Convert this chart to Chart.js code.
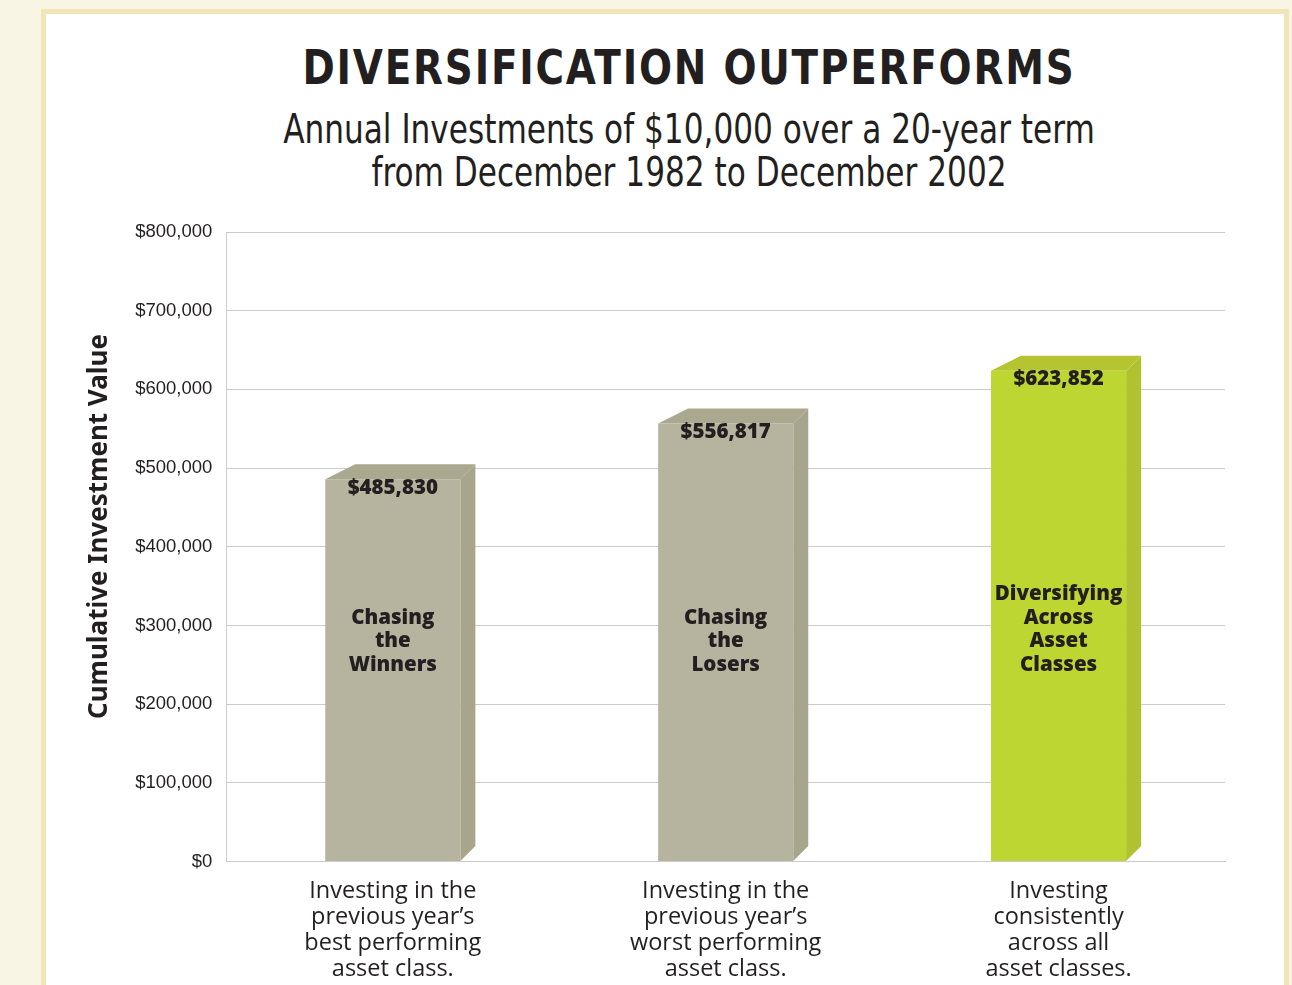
<!DOCTYPE html>
<html>
<head>
<meta charset="utf-8">
<script src="https://cdn.jsdelivr.net/npm/chart.js@4/dist/chart.umd.min.js"></script>
<style>
  html, body { margin: 0; padding: 0; background: #f8f5e4; overflow: hidden; }
  #panel { position: absolute; left: 41px; top: 9px; width: 1238px; height: 1000px; background: #fff; border: 5px solid #f1e5b5; }
  #wrap { position: absolute; left: 46px; top: 14px; width: 1286px; height: 987px; }
  .head { position: absolute; left: 0; width: 1378px; text-align: center; white-space: nowrap; color: #231f20;
          font-family: "DejaVu Sans Condensed", "DejaVu Sans", sans-serif; transform-origin: 689px 0; }
  #title { top: 43px; font-size: 48px; line-height: 48px; font-weight: bold; letter-spacing: 2px; transform: scaleX(0.9); }
  #subtitle { top: 108px; font-size: 41px; line-height: 43px; transform: scaleX(0.845); }
</style>
</head>
<body>
<div id="panel"></div>
<div id="title" class="head">DIVERSIFICATION OUTPERFORMS</div>
<div id="subtitle" class="head">Annual Investments of $10,000 over a 20-year term<br>from December 1982 to December 2002</div>
<div id="wrap"><canvas id="myChart"></canvas></div>
<script>
const categories = [
  ['Investing in the', 'previous year\u2019s', 'best performing', 'asset class.'],
  ['Investing in the', 'previous year\u2019s', 'worst performing', 'asset class.'],
  ['Investing', 'consistently', 'across all', 'asset classes.']
]
const barNames = [
  ['Chasing', 'the', 'Winners'],
  ['Chasing', 'the', 'Losers'],
  ['Diversifying', 'Across', 'Asset', 'Classes']
]
const values = [485830, 556817, 623852]

const frontColors = ['#b6b49f', '#b6b49f', '#bed631']
const sideColors = ['#a7a58b', '#a7a58b', '#b2c130']
const topColors = ['#aaa88f', '#aaa88f', '#b5c532']
const textColor = '#231f20'
const gridColor = '#cbcbcb'
const depth = 15

// side and top faces behind the bars, value + name labels on top
const bar3d = {
  id: 'bar3d',
  beforeDatasetsDraw(chart) {
    const ctx = chart.ctx
    chart.getDatasetMeta(0).data.forEach((bar, i) => {
      const l = bar.x - bar.width / 2, r = bar.x + bar.width / 2, t = bar.y, b = bar.base
      ctx.save()
      ctx.fillStyle = sideColors[i]
      ctx.beginPath()
      ctx.moveTo(r, t); ctx.lineTo(r + depth, t - depth); ctx.lineTo(r + depth, b - depth); ctx.lineTo(r, b)
      ctx.closePath(); ctx.fill()
      ctx.fillStyle = topColors[i]
      ctx.beginPath()
      ctx.moveTo(l, t); ctx.lineTo(l + 2 * depth, t - depth); ctx.lineTo(r + depth, t - depth); ctx.lineTo(r, t)
      ctx.closePath(); ctx.fill()
      ctx.restore()
    })
  },
  afterDatasetsDraw(chart) {
    const ctx = chart.ctx
    const y = chart.scales.y
    ctx.save()
    ctx.fillStyle = textColor
    ctx.textAlign = 'center'
    ctx.textBaseline = 'middle'
    chart.getDatasetMeta(0).data.forEach((bar, i) => {
      ctx.font = '800 20.5px "Open Sans"'
      ctx.fillText('$' + values[i].toLocaleString('en-US'), bar.x, bar.y + 9)
      const lines = barNames[i]
      const bottom = y.getPixelForValue(250000)
      lines.forEach((line, k) => {
        ctx.fillText(line, bar.x, bottom - (lines.length - 1 - k) * 23.5)
      })
    })
    ctx.restore()
  }
}

const ctx = document.getElementById('myChart').getContext('2d')
const myChart = new Chart(ctx, {
  type: 'bar',
  data: {
    labels: categories,
    datasets: [{
      data: values,
      backgroundColor: frontColors,
      barPercentage: 0.406,
      categoryPercentage: 1
    }]
  },
  options: {
    responsive: true,
    maintainAspectRatio: false,
    animation: false,
    layout: { padding: { left: 38, right: 107, top: 218, bottom: 2 } },
    plugins: {
      legend: { display: false },
      tooltip: { enabled: false }
    },
    scales: {
      x: {
        grid: {
          offset: true,
          drawTicks: false,
          color: (c) => (c.index === 0 || c.index === categories.length) ? gridColor : 'rgba(0,0,0,0)'
        },
        border: { color: gridColor },
        ticks: {
          color: textColor,
          padding: 17,
          font: { family: '"Open Sans"', size: 23.5, lineHeight: 1.1 }
        }
      },
      y: {
        min: 0,
        max: 800000,
        grid: { color: gridColor, drawTicks: false },
        border: { color: gridColor },
        ticks: {
          stepSize: 100000,
          padding: 14,
          color: textColor,
          font: { family: '"Liberation Sans", Arial', size: 18.5 },
          callback: (v) => '$' + v.toLocaleString('en-US')
        },
        title: {
          display: true,
          // leading spaces lift the visible text a little above the axis middle
          text: '      Cumulative Investment Value',
          color: textColor,
          font: { family: '"Noto Sans"', size: 26, weight: 'bold' },
          padding: { top: 0, bottom: 6 }
        }
      }
    }
  },
  plugins: [bar3d]
})
</script>
</body>
</html>
